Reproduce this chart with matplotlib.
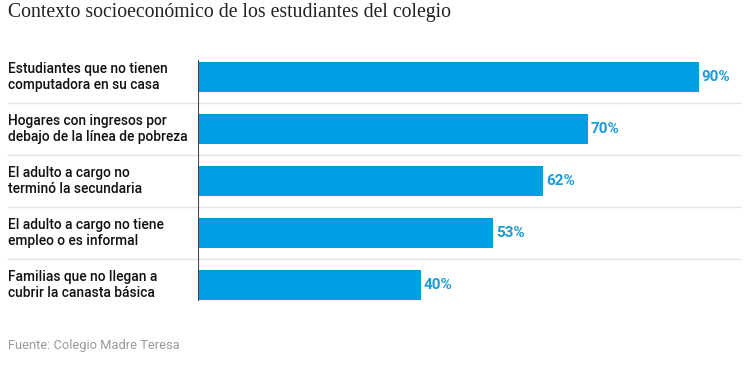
import matplotlib
matplotlib.use("Agg")
import matplotlib.pyplot as plt

# Data
categorias = [
    "Estudiantes que no tienen\ncomputadora en su casa",
    "Hogares con ingresos por\ndebajo de la línea de pobreza",
    "El adulto a cargo no\nterminó la secundaria",
    "El adulto a cargo no tiene\nempleo o es informal",
    "Familias que no llegan a\ncubrir la canasta básica",
]
valores = [90, 70, 62, 53, 40]
titulo = "Contexto socioeconómico de los estudiantes del colegio"
fuente = "Fuente: Colegio Madre Teresa"

AZUL = "#009fe3"
AZUL_TXT = "#1b9ad8"

W, H = 750, 366
fig = plt.figure(figsize=(W / 100, H / 100), dpi=100)

# axes placed in pixel terms
ax_left, ax_right = 198, 740
ax_top, ax_bottom = 51, 311
ax = fig.add_axes([ax_left / W, 1 - ax_bottom / H,
                   (ax_right - ax_left) / W, (ax_bottom - ax_top) / H])

px_per_unit = (699 - 198) / 90
ax.set_xlim(0, (ax_right - ax_left) / px_per_unit)
ax.set_ylim(len(valores) - 0.5, -0.5)

pos = list(range(len(valores)))
ax.barh(pos, valores, height=0.56, color=AZUL, zorder=2)

for p, v in zip(pos, valores):
    ax.text(v + 0.5, p, f"{v}%", va="center", ha="left", color=AZUL_TXT,
            fontsize=11, fontweight="bold", family="Roboto")

trans = ax.get_yaxis_transform()
lbl_x = (8 - ax_left) / (ax_right - ax_left)
for p, c in zip(pos, categorias):
    ax.text(lbl_x, p, c, transform=trans, va="center", ha="left",
            fontsize=9.9, color="#111111", family="Roboto", fontweight="medium",
            linespacing=1.2)

# separators
for p in pos[:-1]:
    ax.axhline(p + 0.5, xmin=lbl_x, xmax=1, color="#e4e4e4", lw=1,
               clip_on=False, zorder=1)

ax.axvline(0, ymin=0.042, ymax=0.96, color="#444444", lw=1.5, zorder=3)

for s in ax.spines.values():
    s.set_visible(False)
ax.set_xticks([])
ax.set_yticks([])

fig.text(8 / W, 1 - 12 / H, titulo, ha="left", va="center",
         fontsize=14.2, family="Liberation Serif", color="#222222")
fig.text(8 / W, 1 - 345 / H, fuente, ha="left", va="center",
         fontsize=9.3, family="Roboto", color="#999999")

fig.savefig("out.png", dpi=100)
